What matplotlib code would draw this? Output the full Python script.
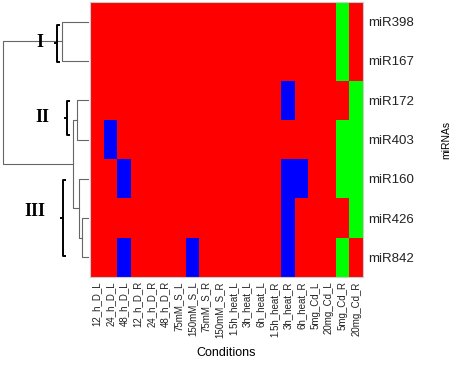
import matplotlib
matplotlib.use("Agg")
import matplotlib.pyplot as plt
from matplotlib.colors import ListedColormap, BoundaryNorm
import numpy as np

plt.rcParams["font.family"] = ["Liberation Sans", "DejaVu Sans"]

conditions = [
    "12_h_D_L", "24_h_D_L", "48_h_D_L", "12_h_D_R", "24_h_D_R", "48_h_D_R",
    "75mM_S_L", "150mM_S_L", "75mM_S_R", "150mM_S_R",
    "1.5h_heat_L", "3h_heat_L", "6h_heat_L", "1.5h_heat_R", "3h_heat_R", "6h_heat_R",
    "5mg_Cd_L", "20mg_Cd_L", "5mg_Cd_R", "20mg_Cd_R",
]
mirnas = ["miR398", "miR167", "miR172", "miR403", "miR160", "miR426", "miR842"]

# 1 = up (red), 0 = no change (green), -1 = down (blue)
miR398 = [1, 1, 1, 1, 1, 1, 1, 1, 1, 1, 1, 1, 1, 1, 1, 1, 1, 1, 0, 1]
miR167 = [1, 1, 1, 1, 1, 1, 1, 1, 1, 1, 1, 1, 1, 1, 1, 1, 1, 1, 0, 1]
miR172 = [1, 1, 1, 1, 1, 1, 1, 1, 1, 1, 1, 1, 1, 1, -1, 1, 1, 1, 1, 0]
miR403 = [1, -1, 1, 1, 1, 1, 1, 1, 1, 1, 1, 1, 1, 1, 1, 1, 1, 1, 0, 0]
miR160 = [1, 1, -1, 1, 1, 1, 1, 1, 1, 1, 1, 1, 1, 1, -1, -1, 1, 1, 0, 0]
miR426 = [1, 1, 1, 1, 1, 1, 1, 1, 1, 1, 1, 1, 1, 1, -1, 1, 1, 1, 1, 0]
miR842 = [1, 1, -1, 1, 1, 1, 1, -1, 1, 1, 1, 1, 1, 1, -1, 1, 1, 1, 0, 1]

# dendrogram merges (child a, child b, height); leaves are 0..6 in row order
merges = [
    (0, 1, 26),
    (2, 3, 11),
    (5, 6, 6),
    (4, 9, 9),
    (8, 10, 15),
    (7, 11, 85),
]

clusters = ["I", "II", "III"]

data = np.array([miR398, miR167, miR172, miR403, miR160, miR426, miR842])

fig = plt.figure(figsize=(4.54, 3.66), dpi=100)
ax = fig.add_axes([90 / 454, 1 - 277 / 366, 273 / 454, 275 / 366])
dax = fig.add_axes([0, 1 - 277 / 366, 90 / 454, 275 / 366])

cmap = ListedColormap(["#0000ff", "#00ff00", "#ff0000"])
norm = BoundaryNorm([-1.5, -0.5, 0.5, 1.5], cmap.N)
ax.pcolormesh(np.arange(len(conditions) + 1), np.arange(len(mirnas) + 1), data,
              cmap=cmap, norm=norm)
ax.set_xlim(0, len(conditions))
ax.set_ylim(len(mirnas), 0)

ax.set_xticks(np.arange(len(conditions)) + 0.5)
ax.set_xticklabels(conditions, rotation=90, fontsize=7, color="#222222")
ax.set_yticks(np.arange(len(mirnas)) + 0.5)
ax.set_yticklabels(mirnas, fontsize=9.5, color="#222222")
ax.yaxis.tick_right()
ax.tick_params(length=0)
ax.tick_params(axis="x", pad=3)
ax.tick_params(axis="y", pad=4)
ax.set_xlabel("Conditions", fontsize=9, labelpad=7)
ax.set_ylabel("miRNAs", fontsize=7.5, labelpad=19)
ax.yaxis.set_label_position("right")
for s in ax.spines.values():
    s.set_color("#cccccc")
    s.set_linewidth(0.8)

# dendrogram
pos = {i: (i + 0.5, 0) for i in range(len(mirnas))}
node = len(mirnas)
for a, b, h in merges:
    ya, ha = pos[a]
    yb, hb = pos[b]
    dax.plot([ha, h, h, hb], [ya, ya, yb, yb], color="#666666", lw=0.8)
    pos[node] = ((ya + yb) / 2, h)
    node += 1
dax.set_xlim(88, -2)
dax.set_ylim(len(mirnas), 0)
dax.set_axis_off()

# cluster labels and braces
label_x = [48, 46, 53]
label_y = [1.02, 2.93, 5.34]
brace_x = [31, 21, 25]
brace_y = [(0.585, 1.52), (2.52, 3.38), (4.53, 6.46)]
for name, lx, ly, bx, (y0, y1) in zip(clusters, label_x, label_y, brace_x, brace_y):
    dax.text(lx, ly, name, family="Liberation Serif", fontweight="bold",
             fontsize=13, ha="center", va="center")
    ym = (y0 + y1) / 2
    dax.plot([bx - 2.5, bx, bx, bx - 2.5], [y0, y0, y1, y1], color="black", lw=1.4,
             solid_capstyle="butt", solid_joinstyle="round")
    dax.plot([bx, bx + 2.5], [ym, ym], color="black", lw=1.4)

fig.savefig("out.png", dpi=100)
